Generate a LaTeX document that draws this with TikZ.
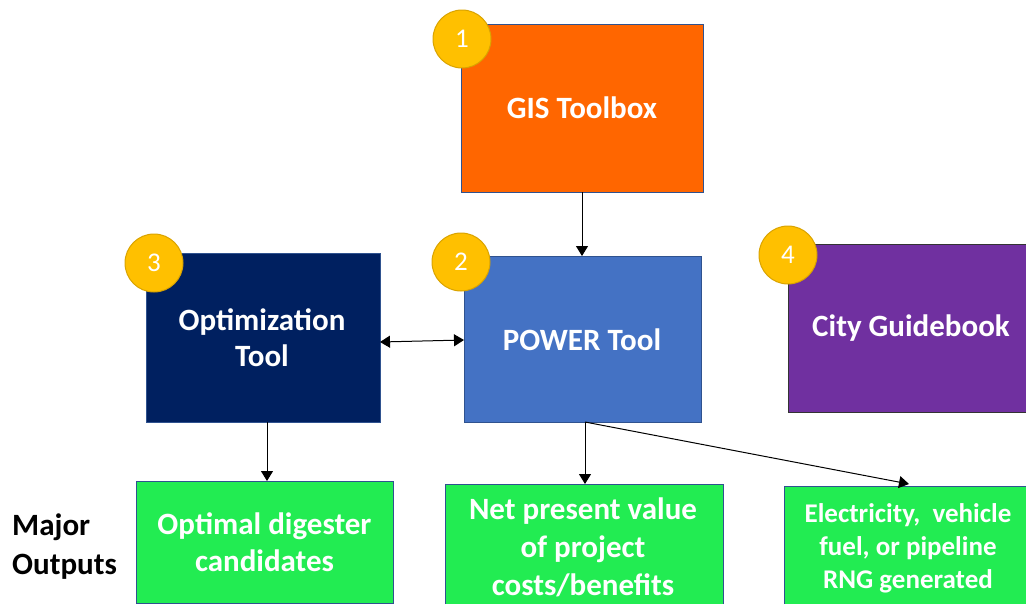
\documentclass[tikz,border=0pt]{standalone}
\usepackage{fontspec}
\setmainfont{Carlito}
\usetikzlibrary{arrows.meta}
\definecolor{gisorange}{HTML}{FF6600}
\definecolor{powerblue}{HTML}{4472C4}
\definecolor{optnavy}{HTML}{002060}
\definecolor{guidepurple}{HTML}{7030A0}
\definecolor{outgreen}{HTML}{22EC52}
\definecolor{badgegold}{HTML}{FFC000}
\definecolor{badgeedge}{HTML}{D9A300}
\definecolor{boxedge}{HTML}{2F528F}
\tikzset{
  toolbox/.style={draw=boxedge, line width=1pt, inner sep=0pt},
  outbox/.style={draw=boxedge, line width=0.8pt, fill=outgreen, inner sep=0pt},
  label/.style={text=white, inner sep=0pt, align=center, font=\bfseries\fontsize{31}{37}\selectfont},
  badge/.style={circle, fill=badgegold, draw=badgeedge, line width=1pt, minimum size=58pt,
    inner sep=0pt, text=white, font=\fontsize{27}{30}\selectfont},
  tip/.tip={Triangle[length=10pt,width=12pt]},
  link/.style={-tip, line width=1pt, black},
}
\begin{document}
\begin{tikzpicture}[x=1pt,y=-1pt]
\useasboundingbox (0,0) rectangle (1026,603);
% tool boxes
\node[toolbox, fill=gisorange, minimum width=242pt, minimum height=168pt, anchor=north west] (gis) at (461,24) {};
\node[label] (gist) at (582,108) {GIS Toolbox};
\node[toolbox, fill=powerblue, minimum width=237pt, minimum height=166pt, anchor=north west] (power) at (464,256) {};
\node[label] (powert) at (582,340) {POWER Tool};
\node[toolbox, fill=optnavy, minimum width=234pt, minimum height=169pt, anchor=north west] (opt) at (146,253) {};
\node[label, font=\bfseries\fontsize{31}{36}\selectfont] (optt) at (262,338) {Optimization\\Tool};
\node[toolbox, draw=black!80, fill=guidepurple, minimum width=240pt, minimum height=168pt, anchor=north west] (guide) at (788,244) {};
\node[label] (guidet) at (911,328) {City Guidebook};
% numbered badges
\node[badge] (b1) at (462,39) {1};
\node[badge] (b2) at (461,262) {2};
\node[badge] (b3) at (154,263) {3};
\node[badge] (b4) at (788,255) {4};
% output boxes
\node[outbox, minimum width=257pt, minimum height=122pt, anchor=north west] (o1) at (136,481) {};
\node[label] (o1t) at (264.5,542) {Optimal digester\\candidates};
\node[outbox, minimum width=278pt, minimum height=122pt, anchor=north west] (o2) at (445,484) {};
\node[label, font=\bfseries\fontsize{31}{38}\selectfont] (o2t) at (583,547) {Net present value\\of project\\costs/benefits};
\node[outbox, minimum width=245pt, minimum height=120pt, anchor=north west] (o3) at (784,486) {};
\node[label, font=\bfseries\fontsize{27}{33}\selectfont] (o3t) at (908,548) {Electricity,~~vehicle\\fuel, or pipeline\\RNG generated};
% side label
\node[anchor=west, inner sep=0pt, font=\bfseries\fontsize{31}{39}\selectfont, align=left] (major) at (12,547) {Major\\Outputs};
% connectors
\coordinate (gisout) at (582,192);
\coordinate (powerin) at (582,256);
\draw[link] (gisout) -- (powerin);
\coordinate (optR) at (380,342);
\coordinate (powerL) at (464,340);
\draw[link, tip-tip] (optR) -- (powerL);
\coordinate (optB) at (267,422);
\coordinate (o1T) at (267,481);
\draw[link] (optB) -- (o1T);
\coordinate (powB) at (585,422);
\coordinate (o2T) at (585,484);
\coordinate (o3T) at (909,484);
\draw[link] (powB) -- (o2T);
\draw[link] (powB) -- (o3T);
\end{tikzpicture}
\end{document}
